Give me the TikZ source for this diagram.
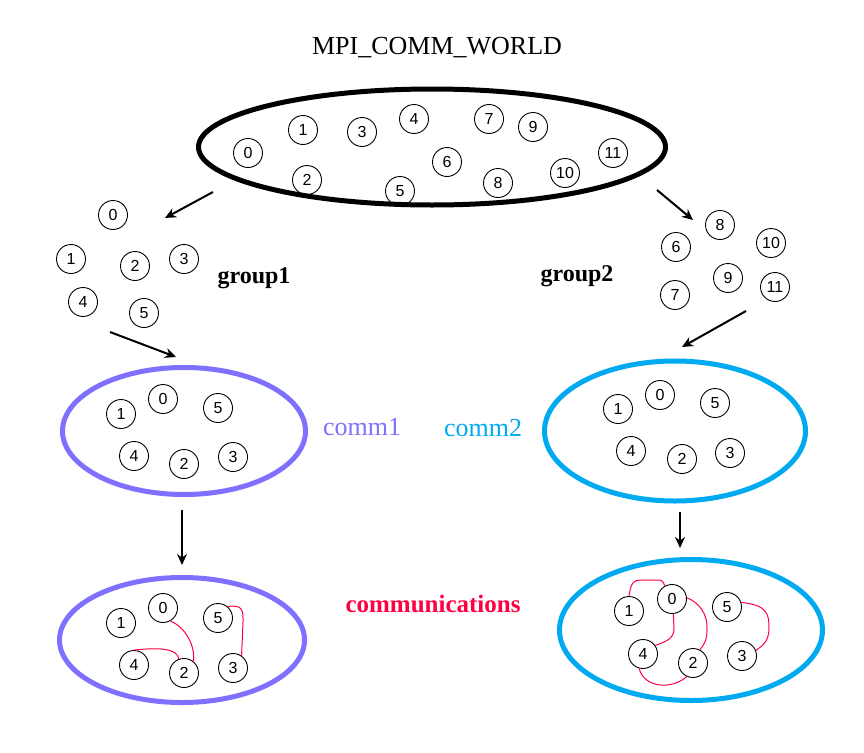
\documentclass[tikz,border=0pt]{standalone}
\usepackage{fontspec}
\setmainfont{Liberation Serif}
\newfontfamily\digitfont{Liberation Sans}
\usetikzlibrary{shapes.geometric,arrows.meta}
\definecolor{cpurple}{RGB}{128,112,255}
\definecolor{cblue}{RGB}{0,170,240}
\definecolor{cred}{RGB}{255,0,64}
\tikzset{
  proc/.style={circle,draw=black,line width=0.9pt,minimum size=29pt,inner sep=0pt,font=\digitfont\fontsize{16}{16}\selectfont},
  bigell/.style={ellipse,draw=black,line width=5pt,inner sep=0pt},
  commell/.style={ellipse,line width=5pt,inner sep=0pt},
  arr/.style={line width=2pt,-{Stealth[length=11pt,width=10pt]}},
  msg/.style={draw=cred,line width=1pt},
  lbl/.style={font=\fontsize{26}{26}\selectfont},
}
\begin{document}
\begin{tikzpicture}[x=1pt,y=-1pt]
\useasboundingbox (0,0) rectangle (864,752);
% title
\node[lbl] (title) at (437,48) {MPI\_COMM\_WORLD};
% world ellipse
\node[bigell,minimum width=467pt,minimum height=116pt] (world) at (432,147) {};
\foreach \n/\x/\y in {0/248/153,1/303/130,3/362/132,4/414/119,7/489/119,9/533/127,11/613/153,2/307/180,5/400/191,6/447/162,8/498/183,10/565/173}
  \node[proc] (w\n) at (\x,\y) {\n};
% group1
\foreach \n/\x/\y in {0/113/215,1/71/259,2/135/266,3/184/259,4/83/302,5/144/313}
  \node[proc] (ga\n) at (\x,\y) {\n};
\node[font=\bfseries\fontsize{24}{24}\selectfont] (g1lbl) at (254,278) {group1};
% group2
\foreach \n/\x/\y in {8/720/225,6/676/247,10/771/243,9/728/278,7/675/295,11/775/287}
  \node[proc] (gb\n) at (\x,\y) {\n};
\node[font=\bfseries\fontsize{24}{24}\selectfont] (g2lbl) at (577,276) {group2};
% comm1
\node[commell,draw=cpurple,minimum width=243pt,minimum height=127pt] (comm1) at (184,431) {};
\foreach \n/\x/\y in {1/121/414,0/163/399,5/218/408,4/134/456,2/184/464,3/233/457}
  \node[proc] (ca\n) at (\x,\y) {\n};
\node[lbl,text=cpurple] (c1lbl) at (362,427) {comm1};
% comm2
\node[commell,draw=cblue,minimum width=261pt,minimum height=140pt] (comm2) at (675,431) {};
\foreach \n/\x/\y in {1/618/409,0/660/395,5/715/403,4/631/451,2/682/459,3/730/453}
  \node[proc] (cb\n) at (\x,\y) {\n};
\node[lbl,text=cblue] (c2lbl) at (483,428) {comm2};
% lower-left
\node[commell,draw=cpurple,minimum width=245pt,minimum height=125pt] (low1) at (182,640) {};
\foreach \n/\x/\y in {1/121/623,0/163/608,5/218/618,4/134/665,2/184/673,3/233/668}
  \node[proc] (l\n) at (\x,\y) {\n};
% lower-right
\node[commell,draw=cblue,minimum width=263pt,minimum height=141pt] (low2) at (691,630) {};
\foreach \n/\x/\y in {1/629/611,0/672/599,5/727/607,4/643/654,2/693/663,3/742/656}
  \node[proc] (r\n) at (\x,\y) {\n};
\node[font=\bfseries\fontsize{25}{25}\selectfont,text=cred] (commlbl) at (433,604) {communications};
% arrows
\coordinate (a1s) at (213,192); \coordinate (a1e) at (165,218);
\coordinate (a2s) at (657,190); \coordinate (a2e) at (693,220);
\coordinate (a3s) at (110,332); \coordinate (a3e) at (176,357);
\coordinate (a4s) at (746,311); \coordinate (a4e) at (682,347);
\coordinate (a5s) at (182,510); \coordinate (a5e) at (182,565);
\coordinate (a6s) at (680,512); \coordinate (a6e) at (680,548);
\draw[arr] (a1s) -- (a1e);
\draw[arr] (a2s) -- (a2e);
\draw[arr] (a3s) -- (a3e);
\draw[arr] (a4s) -- (a4e);
\draw[arr] (a5s) -- (a5e);
\draw[arr] (a6s) -- (a6e);
% messages lower-left
\draw[msg] (l0.-60) .. controls (186,628) and (195,645) .. (l2.50);
\draw[msg] (l4.north) .. controls (162,647) and (177,649) .. (l2.110);
\draw[msg] (l5.50) .. controls (244,604) and (243,612) .. (243,622) -- (l3.55);
% messages lower-right
\draw[msg] (r1.north) .. controls (631,582) and (634,580) .. (641,580) -- (657,580) .. controls (662,580) .. (r0.118);
\draw[msg] (r0.-85) -- (674,628) .. controls (674,638) and (668,641) .. (r4.35);
\draw[msg] (r0.5) .. controls (700,603) and (708,615) .. (707,630) .. controls (707,640) and (704,645) .. (r2.63);
\draw[msg] (r4.-105) .. controls (644,688) and (672,690) .. (r2.-115);
\draw[msg] (r5.18) .. controls (768,605) and (769,615) .. (769,628) .. controls (769,642) and (762,646) .. (r3.22);
\end{tikzpicture}
\end{document}
